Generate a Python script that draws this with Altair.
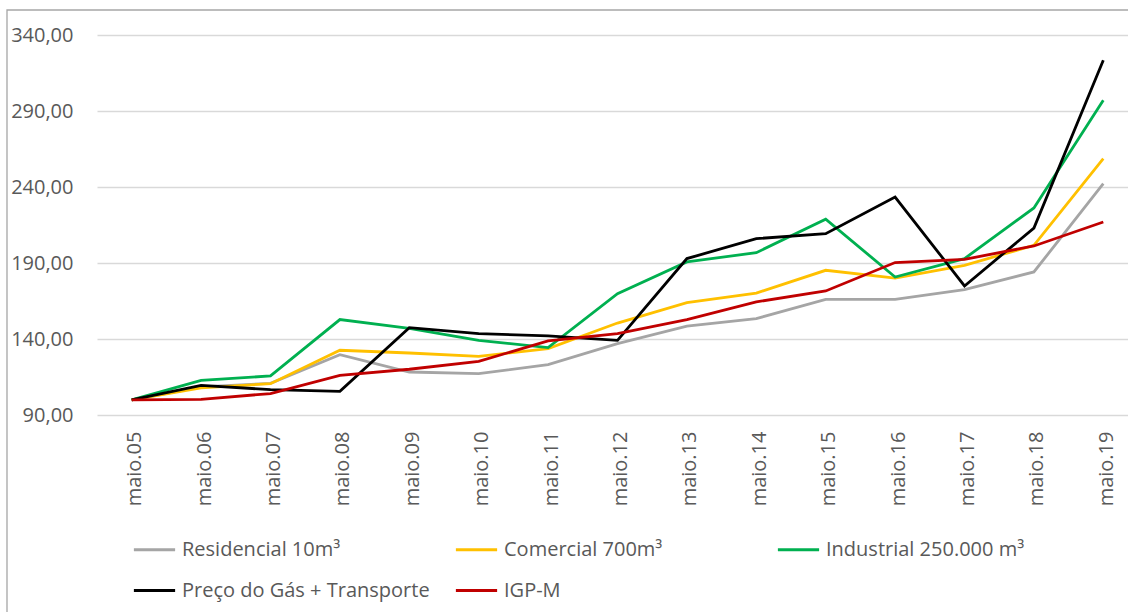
import altair as alt
import pandas as pd

# Index values (base maio.05 = 100)
periods = ["maio.05", "maio.06", "maio.07", "maio.08", "maio.09", "maio.10", "maio.11",
           "maio.12", "maio.13", "maio.14", "maio.15", "maio.16", "maio.17", "maio.18", "maio.19"]

residencial = [100.0, 108.5, 110.8, 129.7, 118.3, 117.2, 123.2, 137.0, 148.4, 153.4, 166.1, 166.1, 172.5, 184.1, 242.2]
comercial = [100.0, 107.8, 110.6, 132.6, 130.8, 128.6, 133.7, 150.5, 163.9, 170.2, 185.2, 180.1, 188.5, 201.6, 258.7]
industrial = [100.0, 112.8, 115.7, 152.8, 147.0, 139.1, 134.3, 169.8, 190.7, 196.8, 218.8, 180.8, 192.9, 226.2, 297.0]
gas_transporte = [100.0, 109.5, 106.7, 105.6, 147.5, 143.5, 142.0, 139.1, 192.9, 206.0, 209.3, 233.4, 174.9, 213.0, 323.4]
igpm = [100.0, 100.3, 104.1, 116.1, 120.1, 125.3, 138.7, 143.5, 152.8, 164.4, 171.6, 190.3, 192.4, 201.2, 217.0]

series_names = ["Residencial 10m³", "Comercial 700m³", "Industrial 250.000 m³",
                "Preço do Gás + Transporte", "IGP-M"]
series_values = [residencial, comercial, industrial, gas_transporte, igpm]
series_colors = ["#A5A5A5", "#FFC000", "#00B050", "#000000", "#C00000"]

# Legend fills column by column: order entries so rows read
# Residencial / Comercial / Industrial, then Preço / IGP-M
legend_order = [0, 3, 1, 4, 2]
legend_names = [series_names[i] for i in legend_order]
legend_colors = [series_colors[i] for i in legend_order]

rows = []
for name, values in zip(series_names, series_values):
    for period, v in zip(periods, values):
        rows.append({"periodo": period, "serie": name, "valor": v})
df = pd.DataFrame(rows)

W, H = 1031, 380
FONT = "Open Sans"
TEXT = "#595959"

lines = alt.Chart(df).mark_line(strokeWidth=2.8).encode(
    x=alt.X("periodo:N", sort=periods, title=None,
            scale=alt.Scale(type="point", range=[0, 1041], padding=0.5),
            axis=alt.Axis(labelAngle=-90, labelPadding=16, labelOffset=3, ticks=False,
                          domain=False, grid=False, labelFontSize=20, labelColor=TEXT,
                          labelFont=FONT)),
    y=alt.Y("valor:Q", title=None,
            scale=alt.Scale(domain=[90, 340], nice=False, zero=False),
            axis=alt.Axis(values=[90, 140, 190, 240, 290, 340], ticks=False, domain=False,
                          labelExpr="replace(format(datum.value, '.2f'), '.', ',')",
                          labelPadding=24, labelFontSize=20, labelColor=TEXT, labelFont=FONT,
                          gridColor="#D9D9D9", gridWidth=1.3)),
    color=alt.Color("serie:N", sort=legend_names,
                    scale=alt.Scale(domain=legend_names, range=legend_colors),
                    legend=alt.Legend(title=None, orient="none", legendX=35, legendY=492,
                                      columns=3, gridAlign="all", columnPadding=19,
                                      rowPadding=8, symbolType="stroke", symbolSize=1700,
                                      symbolStrokeWidth=3, symbolOffset=0, labelOffset=5,
                                      labelFontSize=20, labelColor=TEXT, labelFont=FONT,
                                      padding=0, labelLimit=400)),
)

# Outer frame of the chart
frame = alt.Chart(pd.DataFrame({"k": [0]})).mark_rect(
    filled=False, stroke="#A6A6A6", strokeWidth=1.3
).encode(x=alt.value(-90), x2=alt.value(W + 60), y=alt.value(-25), y2=alt.value(H + 260))

chart = alt.layer(lines, frame).properties(
    width=W, height=H,
    autosize=alt.AutoSizeParams(type="none"),
    padding={"left": 97, "top": 35, "right": 0, "bottom": 197},
).configure_view(stroke=None)

chart.save("out.html", embed_options={"renderer": "svg", "actions": False})
